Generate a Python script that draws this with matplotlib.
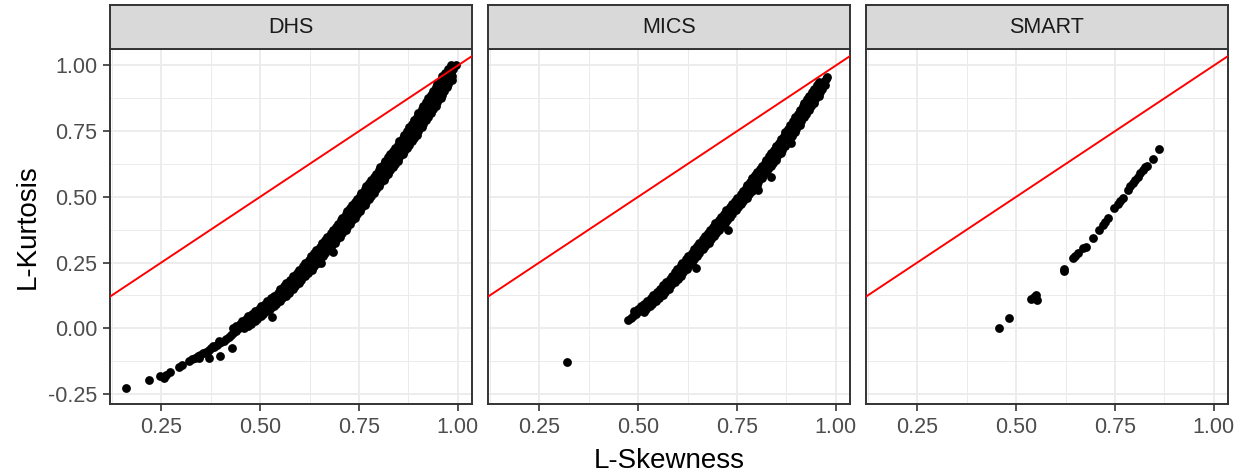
import matplotlib
matplotlib.use("Agg")
from matplotlib import pyplot as plt
from matplotlib.ticker import MultipleLocator

plt.rcParams['font.family'] = ['Liberation Sans', 'DejaVu Sans']

panels = ["DHS", "MICS", "SMART"]

# DHS: sparse tail at low skewness
dhs_low = [(0.162, -0.228), (0.220, -0.196), (0.248, -0.183), (0.257, -0.190), (0.262, -0.178),
           (0.273, -0.167), (0.296, -0.148), (0.303, -0.140), (0.321, -0.124), (0.328, -0.118),
           (0.335, -0.113), (0.342, -0.107), (0.349, -0.101), (0.356, -0.095), (0.363, -0.089),
           (0.370, -0.083), (0.377, -0.077), (0.384, -0.071), (0.390, -0.064), (0.396, -0.058),
           (0.402, -0.054), (0.408, -0.050), (0.414, -0.042), (0.420, -0.034), (0.426, -0.026),
           (0.432, -0.018), (0.438, -0.010), (0.370, -0.113), (0.399, -0.107), (0.428, -0.074),
           (0.395, -0.048), (0.380, -0.068), (0.365, -0.095), (0.345, -0.112)]

# DHS: dense band, middle of the band
dhs_mid = [(0.446, 0.000), (0.454, 0.009), (0.462, 0.018), (0.470, 0.028), (0.478, 0.037),
           (0.486, 0.046), (0.494, 0.055), (0.502, 0.064), (0.510, 0.074), (0.518, 0.084),
           (0.526, 0.094), (0.534, 0.104), (0.542, 0.114), (0.550, 0.124), (0.558, 0.136),
           (0.566, 0.148), (0.574, 0.160), (0.582, 0.173), (0.590, 0.185), (0.598, 0.198),
           (0.606, 0.211), (0.614, 0.223), (0.622, 0.236), (0.630, 0.248), (0.637, 0.261),
           (0.644, 0.273), (0.651, 0.285), (0.658, 0.298), (0.665, 0.310), (0.672, 0.323),
           (0.679, 0.336), (0.686, 0.349), (0.693, 0.362), (0.700, 0.375), (0.706, 0.387),
           (0.712, 0.398), (0.718, 0.410), (0.724, 0.421), (0.730, 0.433), (0.736, 0.445),
           (0.742, 0.457), (0.748, 0.468), (0.754, 0.480), (0.760, 0.492), (0.766, 0.504),
           (0.772, 0.516), (0.778, 0.528), (0.784, 0.540), (0.790, 0.552), (0.796, 0.564),
           (0.802, 0.576), (0.808, 0.588), (0.814, 0.601), (0.820, 0.613), (0.826, 0.625),
           (0.832, 0.638), (0.838, 0.650), (0.844, 0.662), (0.850, 0.675), (0.856, 0.687),
           (0.862, 0.699), (0.868, 0.711), (0.874, 0.724), (0.880, 0.737), (0.886, 0.751),
           (0.892, 0.764), (0.898, 0.778), (0.904, 0.791), (0.910, 0.805), (0.916, 0.819),
           (0.922, 0.833), (0.928, 0.847), (0.934, 0.861), (0.940, 0.875), (0.946, 0.889),
           (0.952, 0.903), (0.958, 0.917), (0.964, 0.931), (0.970, 0.944), (0.976, 0.958),
           (0.982, 0.972), (0.988, 0.986), (0.994, 1.000)]

# DHS: upper-left edge of the band
dhs_upper = [(0.438, 0.009), (0.454, 0.028), (0.470, 0.046), (0.486, 0.064), (0.502, 0.084),
             (0.518, 0.104), (0.534, 0.124), (0.550, 0.148), (0.566, 0.173), (0.582, 0.198),
             (0.598, 0.223), (0.614, 0.248), (0.628, 0.273), (0.642, 0.298), (0.656, 0.323),
             (0.670, 0.349), (0.684, 0.375), (0.696, 0.398), (0.708, 0.421), (0.720, 0.445),
             (0.732, 0.468), (0.744, 0.492), (0.756, 0.516), (0.768, 0.540), (0.780, 0.564),
             (0.792, 0.588), (0.804, 0.613), (0.816, 0.638), (0.828, 0.662), (0.840, 0.687),
             (0.852, 0.711), (0.864, 0.737), (0.876, 0.764), (0.888, 0.791), (0.900, 0.819),
             (0.912, 0.847), (0.924, 0.875), (0.936, 0.903), (0.948, 0.931), (0.960, 0.958),
             (0.974, 0.986),
             (0.432, 0.000), (0.448, 0.018), (0.464, 0.037), (0.480, 0.055), (0.496, 0.074),
             (0.512, 0.094), (0.528, 0.114), (0.544, 0.136), (0.560, 0.160), (0.576, 0.185),
             (0.592, 0.211), (0.608, 0.236), (0.623, 0.261), (0.637, 0.285), (0.651, 0.310),
             (0.665, 0.336), (0.679, 0.362), (0.692, 0.387), (0.704, 0.410), (0.716, 0.433),
             (0.728, 0.457), (0.740, 0.480), (0.752, 0.504), (0.764, 0.528), (0.776, 0.552),
             (0.788, 0.576), (0.800, 0.601), (0.812, 0.625), (0.824, 0.650), (0.836, 0.675),
             (0.848, 0.699), (0.860, 0.724), (0.872, 0.751), (0.884, 0.778), (0.896, 0.805),
             (0.908, 0.833), (0.920, 0.861), (0.932, 0.889), (0.944, 0.917), (0.956, 0.944),
             (0.968, 0.972), (0.982, 1.000)]

# DHS: lower-right edge of the band, with a few stray points
dhs_lower = [(0.470, 0.009), (0.486, 0.028), (0.502, 0.046), (0.518, 0.064), (0.534, 0.084),
             (0.550, 0.104), (0.566, 0.124), (0.582, 0.148), (0.598, 0.173), (0.614, 0.198),
             (0.630, 0.223), (0.646, 0.248), (0.660, 0.273), (0.674, 0.298), (0.688, 0.323),
             (0.702, 0.349), (0.716, 0.375), (0.728, 0.398), (0.740, 0.421), (0.752, 0.445),
             (0.764, 0.468), (0.776, 0.492), (0.788, 0.516), (0.800, 0.540), (0.812, 0.564),
             (0.824, 0.588), (0.836, 0.613), (0.848, 0.638), (0.860, 0.662), (0.872, 0.687),
             (0.884, 0.711), (0.896, 0.737), (0.908, 0.764), (0.920, 0.791), (0.932, 0.819),
             (0.944, 0.847), (0.956, 0.875), (0.966, 0.903), (0.976, 0.931), (0.986, 0.958),
             (0.460, 0.000), (0.476, 0.018), (0.492, 0.037), (0.508, 0.055), (0.524, 0.074),
             (0.540, 0.094), (0.556, 0.114), (0.572, 0.136), (0.588, 0.160), (0.604, 0.185),
             (0.620, 0.211), (0.636, 0.236), (0.651, 0.261), (0.665, 0.285), (0.679, 0.310),
             (0.693, 0.336), (0.707, 0.362), (0.720, 0.387), (0.732, 0.410), (0.744, 0.433),
             (0.756, 0.457), (0.768, 0.480), (0.780, 0.504), (0.792, 0.528), (0.804, 0.552),
             (0.816, 0.576), (0.828, 0.601), (0.840, 0.625), (0.852, 0.650), (0.864, 0.675),
             (0.876, 0.699), (0.888, 0.724), (0.900, 0.751), (0.912, 0.778), (0.924, 0.805),
             (0.936, 0.833), (0.948, 0.861), (0.960, 0.889), (0.972, 0.917), (0.984, 0.944),
             (0.530, 0.041), (0.654, 0.247), (0.684, 0.292)]

# MICS
mics_low = [(0.320, -0.127)]

mics_mid = [(0.474, 0.030), (0.481, 0.039), (0.488, 0.047), (0.495, 0.056), (0.502, 0.064),
            (0.510, 0.074), (0.518, 0.084), (0.526, 0.094), (0.534, 0.104), (0.542, 0.115),
            (0.550, 0.125), (0.558, 0.138), (0.566, 0.150), (0.574, 0.163), (0.582, 0.175),
            (0.590, 0.188), (0.597, 0.200), (0.604, 0.213), (0.611, 0.226), (0.618, 0.239),
            (0.624, 0.250), (0.631, 0.262), (0.638, 0.275), (0.645, 0.287), (0.652, 0.300),
            (0.659, 0.312), (0.666, 0.325), (0.673, 0.338), (0.680, 0.350), (0.687, 0.363),
            (0.693, 0.375), (0.700, 0.387), (0.707, 0.400), (0.714, 0.412), (0.721, 0.424),
            (0.728, 0.436), (0.735, 0.449), (0.742, 0.461), (0.749, 0.473), (0.756, 0.485),
            (0.763, 0.497), (0.770, 0.509), (0.776, 0.521), (0.782, 0.533), (0.788, 0.545),
            (0.794, 0.558), (0.800, 0.570), (0.806, 0.582), (0.812, 0.594), (0.818, 0.605),
            (0.824, 0.617), (0.830, 0.629), (0.836, 0.642), (0.842, 0.655), (0.848, 0.668),
            (0.854, 0.680), (0.860, 0.693), (0.866, 0.706), (0.872, 0.719), (0.878, 0.732),
            (0.884, 0.745), (0.890, 0.759), (0.896, 0.773), (0.902, 0.788), (0.908, 0.802),
            (0.914, 0.816), (0.920, 0.830), (0.926, 0.844), (0.932, 0.858), (0.938, 0.872),
            (0.944, 0.885), (0.950, 0.899), (0.956, 0.912), (0.962, 0.925), (0.968, 0.937),
            (0.974, 0.949), (0.978, 0.956)]

mics_upper = [(0.490, 0.064), (0.506, 0.084), (0.522, 0.104), (0.538, 0.125), (0.554, 0.150),
              (0.570, 0.175), (0.585, 0.200), (0.599, 0.226), (0.612, 0.250), (0.626, 0.275),
              (0.640, 0.300), (0.654, 0.325), (0.668, 0.350), (0.681, 0.375), (0.695, 0.400),
              (0.709, 0.424), (0.723, 0.449), (0.737, 0.473), (0.751, 0.497), (0.764, 0.521),
              (0.776, 0.545), (0.788, 0.570), (0.800, 0.594), (0.812, 0.617), (0.824, 0.642),
              (0.836, 0.668), (0.848, 0.693), (0.860, 0.719), (0.872, 0.745), (0.884, 0.773),
              (0.896, 0.802), (0.908, 0.830), (0.920, 0.858), (0.932, 0.885), (0.944, 0.912),
              (0.956, 0.937),
              (0.500, 0.074), (0.516, 0.094), (0.532, 0.115), (0.548, 0.138), (0.564, 0.163),
              (0.580, 0.188), (0.594, 0.213), (0.608, 0.239), (0.621, 0.262), (0.635, 0.287),
              (0.649, 0.312), (0.663, 0.338), (0.677, 0.363), (0.690, 0.387), (0.704, 0.412),
              (0.718, 0.436), (0.732, 0.461), (0.746, 0.485), (0.760, 0.509), (0.772, 0.533),
              (0.784, 0.558), (0.796, 0.582), (0.808, 0.605), (0.820, 0.629), (0.832, 0.655),
              (0.844, 0.680), (0.856, 0.706), (0.868, 0.732), (0.880, 0.759), (0.892, 0.788),
              (0.904, 0.816), (0.916, 0.844), (0.928, 0.872), (0.940, 0.899), (0.952, 0.925)]

mics_lower = [(0.514, 0.064), (0.530, 0.084), (0.546, 0.104), (0.562, 0.125), (0.578, 0.150),
              (0.594, 0.175), (0.609, 0.200), (0.623, 0.226), (0.636, 0.250), (0.650, 0.275),
              (0.664, 0.300), (0.678, 0.325), (0.692, 0.350), (0.705, 0.375), (0.719, 0.400),
              (0.733, 0.424), (0.747, 0.449), (0.761, 0.473), (0.775, 0.497), (0.788, 0.521),
              (0.800, 0.545), (0.812, 0.570), (0.824, 0.594), (0.836, 0.617), (0.848, 0.642),
              (0.860, 0.668), (0.872, 0.693), (0.884, 0.719), (0.896, 0.745), (0.908, 0.773),
              (0.920, 0.802), (0.932, 0.830), (0.944, 0.858), (0.956, 0.885), (0.966, 0.912),
              (0.520, 0.074), (0.536, 0.094), (0.552, 0.115), (0.568, 0.138), (0.584, 0.163),
              (0.600, 0.188), (0.614, 0.213), (0.628, 0.239), (0.641, 0.262), (0.655, 0.287),
              (0.669, 0.312), (0.683, 0.338), (0.697, 0.363), (0.710, 0.387), (0.724, 0.412),
              (0.738, 0.436), (0.752, 0.461), (0.766, 0.485), (0.780, 0.509), (0.792, 0.533),
              (0.804, 0.558), (0.816, 0.582), (0.828, 0.605), (0.840, 0.629), (0.852, 0.655),
              (0.864, 0.680), (0.876, 0.706), (0.888, 0.732), (0.900, 0.759), (0.912, 0.788),
              (0.924, 0.816), (0.936, 0.844), (0.948, 0.872), (0.960, 0.899), (0.972, 0.925),
              (0.516, 0.063), (0.646, 0.228), (0.726, 0.374), (0.802, 0.527), (0.835, 0.577),
              (0.886, 0.704)]

# SMART
smart_pts = [(0.456, 0.000), (0.481, 0.038), (0.538, 0.112), (0.549, 0.127), (0.553, 0.108),
             (0.545, 0.118), (0.620, 0.225), (0.622, 0.216), (0.643, 0.266), (0.650, 0.276),
             (0.656, 0.286), (0.668, 0.305), (0.677, 0.311), (0.694, 0.343), (0.710, 0.374),
             (0.719, 0.393), (0.725, 0.405), (0.731, 0.419), (0.748, 0.457), (0.757, 0.473),
             (0.763, 0.483), (0.769, 0.495), (0.782, 0.527), (0.789, 0.540), (0.795, 0.552),
             (0.801, 0.565), (0.807, 0.577), (0.813, 0.590), (0.820, 0.603), (0.825, 0.612),
             (0.830, 0.618), (0.845, 0.643), (0.860, 0.681)]

data = {
    "DHS": dhs_low + dhs_mid + dhs_upper + dhs_lower,
    "MICS": mics_low + mics_mid + mics_upper + mics_lower,
    "SMART": smart_pts,
}

x_ticks = [0.25, 0.50, 0.75, 1.00]
y_ticks = [-0.25, 0.00, 0.25, 0.50, 0.75, 1.00]

# shared scales with ggplot-like 5% expansion
all_x = [p[0] for k in panels for p in data[k]]
all_y = [p[1] for k in panels for p in data[k]]
xr = max(all_x) - min(all_x)
yr = max(all_y) - min(all_y)
xlim = (min(all_x) - 0.05 * xr, max(all_x) + 0.05 * xr)
ylim = (min(all_y) - 0.05 * yr, max(all_y) + 0.05 * yr)

W, H = 1242, 476
fig = plt.figure(figsize=(W / 100, H / 100), dpi=100)

border = "#333333"
grid_col = "#EBEBEB"
lefts = [110, 488, 866]
pw = 362
p_top, p_bot = 49.3, 404.3
s_top = 5

for i, name in enumerate(panels):
    ax = fig.add_axes([lefts[i] / W, (H - p_bot) / H, pw / W, (p_bot - p_top) / H])
    pts = data[name]
    ax.scatter([p[0] for p in pts], [p[1] for p in pts], s=40, c="black",
               linewidths=0, zorder=3)
    ax.axline((0, 0), slope=1, color="red", lw=1.4, zorder=4)
    ax.set_xlim(xlim)
    ax.set_ylim(ylim)
    ax.set_xticks(x_ticks)
    ax.set_xticklabels(["%.2f" % v for v in x_ticks])
    ax.set_yticks(y_ticks)
    ax.xaxis.set_minor_locator(MultipleLocator(0.125))
    ax.yaxis.set_minor_locator(MultipleLocator(0.125))
    ax.grid(True, which="major", color=grid_col, lw=1.3, zorder=0)
    ax.grid(True, which="minor", color=grid_col, lw=0.7, zorder=0)
    ax.set_axisbelow(True)
    for sp in ax.spines.values():
        sp.set_color(border)
        sp.set_linewidth(1.4)
    ax.tick_params(which="major", length=5, width=1.2, color=border,
                   labelsize=15.5, labelcolor="#4D4D4D", pad=4)
    ax.tick_params(which="minor", length=0)
    if i == 0:
        ax.set_yticklabels(["%.2f" % v for v in y_ticks])
    else:
        ax.tick_params(axis="y", which="both", left=False, labelleft=False)

    # facet strip
    st = fig.add_axes([lefts[i] / W, (H - p_top) / H, pw / W, (p_top - s_top) / H])
    st.set_facecolor("#D9D9D9")
    st.set_xticks([])
    st.set_yticks([])
    for sp in st.spines.values():
        sp.set_color(border)
        sp.set_linewidth(1.4)
    st.text(0.5, 0.5, name, ha="center", va="center", fontsize=15.5,
            color="#1A1A1A", transform=st.transAxes)

fig.text((lefts[0] + lefts[2] + pw) / 2 / W, 1 - 461 / H, "L-Skewness",
         ha="center", va="center", fontsize=20, color="black")
fig.text(28 / W, 1 - (p_top + p_bot) / 2 / H, "L-Kurtosis", rotation=90,
         ha="center", va="center", fontsize=20, color="black")

fig.savefig("out.png", dpi=100)
